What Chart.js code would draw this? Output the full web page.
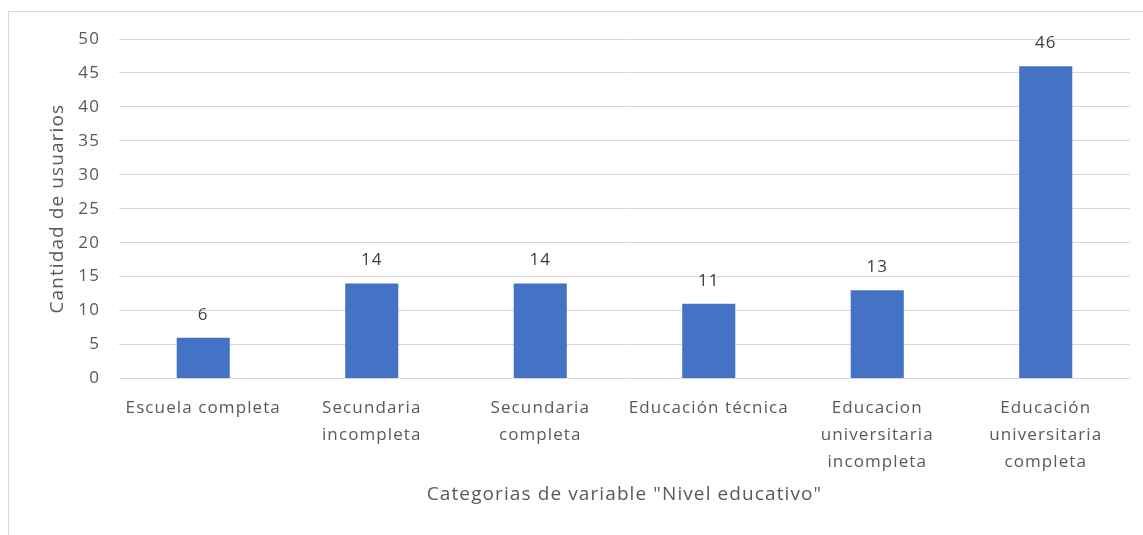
<!DOCTYPE html>
<html>
<head>
<meta charset="utf-8">
<script src="https://cdn.jsdelivr.net/npm/chart.js@4/dist/chart.umd.min.js"></script>
<style>
  html, body { margin: 0; padding: 0; background: #fff; }
  #wrap { position: relative; width: 1143px; height: 535px; overflow: hidden; }
  #frame { position: absolute; left: 8px; top: 11px; right: -2px; bottom: -2px;
           border-top: 1px solid #d9d9d9; border-left: 1px solid #d9d9d9; }
  canvas { position: absolute; left: 0; top: 0; }
</style>
</head>
<body>
<div id="wrap">
  <div id="frame"></div>
  <canvas id="c" width="1143" height="535"></canvas>
</div>
<script>
// Nivel educativo de los usuarios
const categories = [
  ['Escuela completa'],
  ['Secundaria', 'incompleta'],
  ['Secundaria', 'completa'],
  ['Educación técnica'],
  ['Educacion', 'universitaria', 'incompleta'],
  ['Educación', 'universitaria', 'completa']
];
const usuarios = [6, 14, 14, 11, 13, 46];
const yTicks = [0, 5, 10, 15, 20, 25, 30, 35, 40, 45, 50];

const FONT = "'Open Sans', 'Noto Sans', sans-serif";

// Slightly open tracking for every text drawn on the canvas
const tracking = {
  id: 'tracking',
  beforeUpdate(chart) { chart.ctx.letterSpacing = '1.1px'; },
  beforeDraw(chart) { chart.ctx.letterSpacing = '1.1px'; }
};

// Writes each bar's value above it
const valueLabels = {
  id: 'valueLabels',
  afterDatasetsDraw(chart) {
    const ctx = chart.ctx;
    const meta = chart.getDatasetMeta(0);
    ctx.save();
    ctx.font = '17px ' + FONT;
    ctx.fillStyle = '#404040';
    ctx.textAlign = 'center';
    ctx.textBaseline = 'middle';
    meta.data.forEach((bar, i) => {
      ctx.fillText(String(chart.data.datasets[0].data[i]), bar.x, bar.y - 23);
    });
    ctx.restore();
  }
};

new Chart(document.getElementById('c'), {
  type: 'bar',
  data: {
    labels: categories,
    datasets: [{
      data: usuarios,
      backgroundColor: '#4472C4',
      borderWidth: 0,
      barPercentage: 0.315,
      categoryPercentage: 1
    }]
  },
  options: {
    responsive: false,
    animation: false,
    events: [],
    layout: { padding: { left: 0, right: 13, top: 39, bottom: 25 } },
    plugins: { legend: { display: false }, tooltip: { enabled: false } },
    scales: {
      x: {
        afterFit(scale) { scale.height = 131.5; },
        grid: { display: false, drawTicks: false },
        border: { display: false },
        ticks: {
          color: '#595959',
          padding: 16,
          maxRotation: 0,
          autoSkip: false,
          font: { family: FONT, size: 17, lineHeight: 1.6 }
        },
        title: {
          display: true,
          text: 'Categorias de variable "Nivel educativo"',
          color: '#595959',
          font: { family: FONT, size: 19 },
          padding: { top: 10, bottom: 4 }
        }
      },
      y: {
        min: 0,
        max: 50,
        afterBuildTicks(scale) { scale.ticks = yTicks.map(v => ({ value: v })); },
        afterFit(scale) { scale.width = 119; },
        grid: { color: '#d9d9d9', lineWidth: 1, drawTicks: false },
        border: { display: false },
        ticks: {
          color: '#595959',
          padding: 19,
          font: { family: FONT, size: 17 }
        },
        title: {
          display: true,
          text: 'Cantidad de usuarios',
          color: '#595959',
          font: { family: FONT, size: 19 },
          padding: { top: 46, bottom: 0 }
        }
      }
    }
  },
  plugins: [tracking, valueLabels]
});
</script>
</body>
</html>
